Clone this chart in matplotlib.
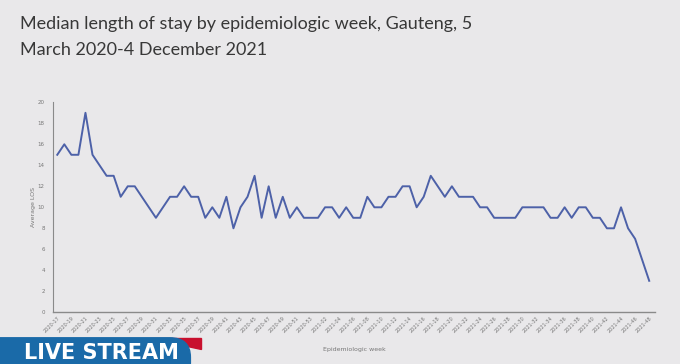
import matplotlib.pyplot as plt
from matplotlib.patches import FancyBboxPatch, Polygon

# Median LOS per epidemiologic week, 2020-17 .. 2021-48
weeks = [f"2020-{w:02d}" for w in range(17, 54)] + [f"2021-{w:02d}" for w in range(1, 49)]
los = [15, 16, 15, 15, 19, 15, 14, 13, 13, 11,
       12, 12, 11, 10, 9, 10, 11, 11, 12, 11,
       11, 9, 10, 9, 11, 8, 10, 11, 13, 9,
       12, 9, 11, 9, 10, 9, 9, 9, 10, 10,
       9, 10, 9, 9, 11, 10, 10, 11, 11, 12,
       12, 10, 11, 13, 12, 11, 12, 11, 11, 11,
       10, 10, 9, 9, 9, 9, 10, 10, 10, 10,
       9, 9, 10, 9, 10, 10, 9, 9, 8, 8,
       10, 8, 7, 5, 3]

bg = '#e9e8ea'
fig = plt.figure(figsize=(6.8, 3.64), dpi=100, facecolor=bg)
ax = fig.add_axes([0.078, 0.142, 0.885, 0.577], facecolor=bg)

x = list(range(len(weeks)))
ax.plot(x, los, color='#4d61a8', linewidth=1.4)

ax.set_xlim(-0.6, len(weeks) - 0.2)
ax.set_ylim(0, 20)
ax.set_yticks(range(0, 21, 2))
ax.set_xticks(x[::2])
ax.set_xticklabels(weeks[::2], rotation=45, ha='right', rotation_mode='anchor',
                   fontsize=3.6, color='#777777')
ax.tick_params(axis='y', labelsize=4, colors='#777777', length=0, pad=6)
ax.tick_params(axis='x', length=0, pad=2)
for s in ['top', 'right']:
    ax.spines[s].set_visible(False)
ax.spines['left'].set_color('#8a8a8a')
ax.spines['bottom'].set_color('#8a8a8a')
ax.spines['left'].set_linewidth(0.8)
ax.spines['bottom'].set_linewidth(1.0)
ax.set_ylabel('Average LOS', fontsize=4.5, color='#777777', labelpad=1)
ax.set_xlabel('Epidemiologic week', fontsize=4.5, color='#777777', labelpad=10)

fig.text(0.03, 0.955, 'Median length of stay by epidemiologic week, Gauteng, 5\nMarch 2020-4 December 2021',
         fontsize=13, family='Lato', color='#383838', va='top', ha='left', linespacing=1.75)

# broadcast banner
fig.patches.append(Polygon([[0.22, 0.072], [0.295, 0.072], [0.295, 0.04]],
                           closed=True, transform=fig.transFigure, color='#c8102e', zorder=5))
fig.patches.append(FancyBboxPatch((-0.05, -0.05), 0.33, 0.122, boxstyle='round,pad=0,rounding_size=0.03',
                                  transform=fig.transFigure, color='#1a6aa8', zorder=6,
                                  mutation_aspect=1.8))
fig.text(0.036, 0.03, 'LIVE STREAM', fontsize=15, fontweight='bold', color='white',
         family='DejaVu Sans', va='center', ha='left', zorder=7)

fig.savefig('out.png', dpi=100, facecolor=bg)
